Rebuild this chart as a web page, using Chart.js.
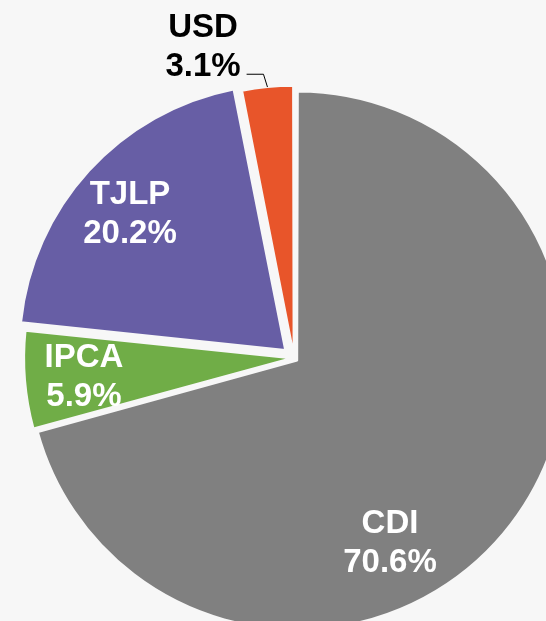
<!DOCTYPE html>
<html>
<head>
<meta charset="utf-8">
<script src="https://cdn.jsdelivr.net/npm/chart.js@4.4.1/dist/chart.umd.min.js"></script>
<style>
  html, body { margin: 0; padding: 0; background: #f7f7f7; overflow: hidden; }
  #wrap { position: relative; width: 546px; height: 621px; overflow: hidden; }
  #pie { position: absolute; left: -56px; top: -42px; }
</style>
</head>
<body>
<div id="wrap"><canvas id="pie" width="700" height="800"></canvas></div>
<script>
const categories = ['CDI', 'IPCA', 'TJLP', 'USD'];
const shares = [70.6, 5.9, 20.2, 3.1];

const sliceColors = ['#808080', '#70ad47', '#675ea5', '#e8552a'];
const explode = [16, 12, 48, 16];

// where each label sits: angle on canvas (deg) and distance as part of the radius
const labelSpots = [
  { angle: 62.3, dist: 0.779, color: '#ffffff' },
  { angle: 175.6, dist: 0.795, color: '#ffffff' },
  { angle: 221.8, dist: 0.830, color: '#ffffff' },
  { angle: 253.8, dist: 1.231, color: '#000000', leader: true },
];

const sliceLabels = {
  id: 'sliceLabels',
  afterDatasetsDraw(chart) {
    const { ctx } = chart;
    const arcs = chart.getDatasetMeta(0).data;
    ctx.save();
    ctx.font = 'bold 33px "Liberation Sans", Arial, sans-serif';
    ctx.textAlign = 'center';
    ctx.textBaseline = 'alphabetic';
    arcs.forEach((arc, i) => {
      const spot = labelSpots[i];
      const a = spot.angle * Math.PI / 180;
      const x = arc.x + Math.cos(a) * arc.outerRadius * spot.dist;
      const y = arc.y + Math.sin(a) * arc.outerRadius * spot.dist;
      const top = categories[i];
      const bottom = shares[i].toFixed(1) + '%';
      ctx.fillStyle = spot.color;
      ctx.fillText(top, x, y - 19.5 + 12);
      ctx.fillText(bottom, x, y + 19.5 + 12);

      if (spot.leader) {
        const mid = (arc.startAngle + arc.endAngle) / 2;
        const shift = explode[i] / 4;
        const fix = 1 - Math.sin(Math.min(Math.PI, arc.circumference));
        const r = arc.outerRadius + shift + shift * fix;
        const ex = arc.x + Math.cos(mid) * r;
        const ey = arc.y + Math.sin(mid) * r;
        const sx = x + ctx.measureText(bottom).width / 2 + 6;
        const sy = y + 19.5 + 10;
        ctx.strokeStyle = '#000000';
        ctx.lineWidth = 1;
        ctx.beginPath();
        ctx.moveTo(sx, sy);
        ctx.lineTo(ex - 4, sy);
        ctx.lineTo(ex, ey);
        ctx.stroke();
      }
    });
    ctx.restore();
  }
};

new Chart(document.getElementById('pie'), {
  type: 'pie',
  data: {
    labels: categories,
    datasets: [{
      data: shares,
      backgroundColor: sliceColors,
      borderColor: '#f7f7f7',
      borderWidth: 2,
      offset: explode,
      hoverOffset: 0,
    }],
  },
  options: {
    responsive: false,
    animation: false,
    events: [],
    radius: 265,
    layout: { padding: 0 },
    plugins: {
      legend: { display: false },
      tooltip: { enabled: false },
    },
  },
  plugins: [sliceLabels],
});
</script>
</body>
</html>
